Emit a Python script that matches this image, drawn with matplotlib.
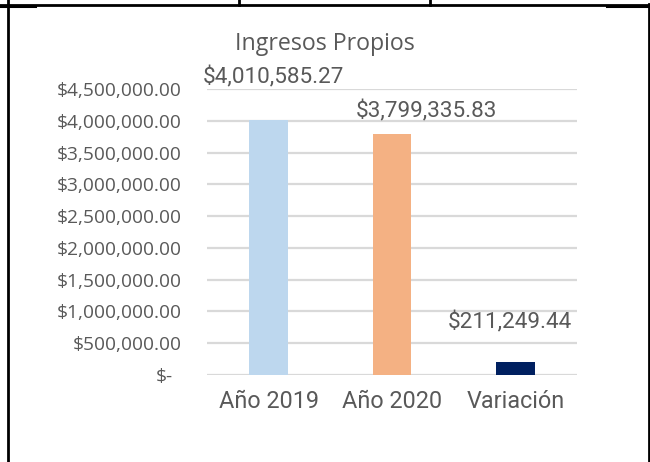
import matplotlib
matplotlib.use("Agg")
import matplotlib.pyplot as plt
from matplotlib.lines import Line2D
from matplotlib.ticker import FuncFormatter
import matplotlib.transforms as mtransforms

# Data
categories = ["Año 2019", "Año 2020", "Variación"]
values = [4010585.27, 3799335.83, 211249.44]
bar_colors = ["#BDD7EE", "#F4B183", "#002060"]
y_ticks = [0, 500000, 1000000, 1500000, 2000000, 2500000, 3000000, 3500000, 4000000, 4500000]

TEXT = "#595959"
GRID = "#D9D9D9"
LABEL_FONT = "Roboto"

W, H = 650, 462
fig = plt.figure(figsize=(W / 100, H / 100), dpi=100)
ax = fig.add_axes([207 / W, 87 / H, 370 / W, 286 / H])

x = list(range(len(categories)))
ax.bar(x, values, width=0.316, color=bar_colors, zorder=3)

ax.set_xlim(-0.5, len(categories) - 0.5)
ax.set_ylim(0, 4500000)
ax.set_yticks(y_ticks)


def money(v, pos=None):
    if v == 0:
        return "$-"
    return "${:,.2f}".format(v)


ax.yaxis.set_major_formatter(FuncFormatter(money))
ax.grid(axis="y", color=GRID, linewidth=1.6, zorder=0)
for s in ax.spines.values():
    s.set_visible(False)
ax.tick_params(axis="both", length=0)
ax.tick_params(axis="y", pad=18, labelcolor=TEXT, labelsize=13.8)
ax.tick_params(axis="x", pad=11, labelcolor=TEXT, labelsize=16.8)
for lab in ax.get_yticklabels():
    lab.set_fontfamily("Open Sans")
ax.set_xticks(x)
ax.set_xticklabels(categories, fontfamily=LABEL_FONT)

# Shift the zero label to sit like an accounting-format dash
fig.canvas.draw()
zero_lab = ax.get_yticklabels()[0]
zero_lab.set_transform(zero_lab.get_transform() +
                       mtransforms.ScaledTranslation(-9 / 100, 0, fig.dpi_scale_trans))

# Value labels above each bar
label_offsets = [(5, 37), (34.5, 16.5), (-5.5, 33.5)]
for xi, v, (dx, dy) in zip(x, values, label_offsets):
    ax.annotate("${:,.2f}".format(v), (xi, v), xytext=(dx, dy),
                textcoords="offset pixels", ha="center", va="baseline",
                fontsize=16.2, color=TEXT, fontfamily=LABEL_FONT)

fig.text(324.5 / W, 1 - 50 / H, "Ingresos Propios", ha="center", va="baseline",
         fontsize=16.7, color=TEXT, fontfamily="Open Sans")

# Page frame around the chart
def seg(x0, y0, x1, y1, lw=2):
    fig.add_artist(Line2D([x0 / W, x1 / W], [1 - y0 / H, 1 - y1 / H],
                          color="black", linewidth=lw, transform=fig.transFigure))

seg(0, 4.5, W, 4.5)
seg(0, 6, 35, 6, 2.2)
seg(607, 6, W, 6, 2.2)
seg(8, 0, 8, H)
seg(649, 4, 649, H)
seg(239, 0, 239, 4.5)
seg(430, 0, 430, 4.5)

fig.savefig("out.png", dpi=100)
